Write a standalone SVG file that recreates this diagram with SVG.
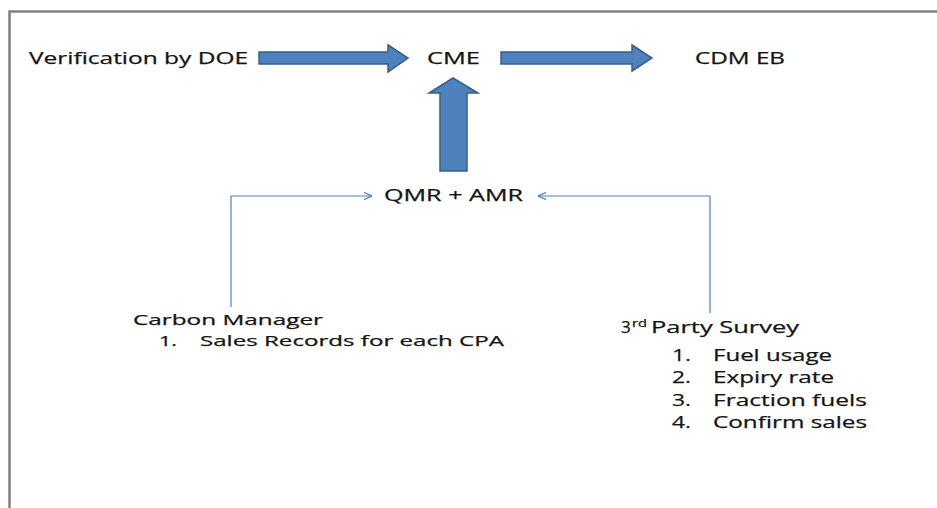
<svg xmlns="http://www.w3.org/2000/svg" width="937" height="508" viewBox="0 0 937 508">
<style>
.t{font-family:"Open Sans","Liberation Sans",sans-serif;font-size:17px;fill:#141414;stroke:#141414;stroke-width:0.25}
.s{font-size:15px}
.sup{font-size:11px}
.big{fill:#4F81BD;stroke:#385D8A;stroke-width:1.5}
.thin{fill:none;stroke:#4F81BD;stroke-width:1.2}
</style>
<defs>
<marker id="open" viewBox="0 0 10 10" refX="10" refY="5" markerWidth="9" markerHeight="9" markerUnits="userSpaceOnUse" orient="auto">
<path d="M1,1 L10,5 L1,9" fill="none" stroke="#4F81BD" stroke-width="1.3"/>
</marker>
</defs>
<rect x="0" y="0" width="937" height="508" fill="#fff"/>
<rect id="frame" x="9.5" y="11.5" width="940" height="510" fill="none" stroke="#808080" stroke-width="2.5"/>

<g id="connectors">
<path class="big" d="M259,52 H388 V45 L408,58 L388,72 V64 H259 Z"/>
<path class="big" d="M501,52 H632 V45 L652,58 L632,71 V64 H501 Z"/>
<path class="big" d="M440,171 V93 H429 L453,78 L478,93 H467 V171 Z"/>
<path class="thin" d="M231,307 V196 H372" marker-end="url(#open)"/>
<path class="thin" d="M710,313 V196 H538" marker-end="url(#open)"/>
</g>

<g id="doe"><text class="t" x="29" y="64" textLength="219" lengthAdjust="spacingAndGlyphs">Verification by DOE</text></g>
<g id="cme"><text class="t" x="427" y="64" textLength="53" lengthAdjust="spacingAndGlyphs">CME</text></g>
<g id="cdmeb"><text class="t" x="695" y="64" textLength="90" lengthAdjust="spacingAndGlyphs">CDM EB</text></g>
<g id="qmr"><text class="t" x="384" y="201" textLength="139" lengthAdjust="spacingAndGlyphs">QMR + AMR</text></g>

<g id="carbon-manager">
<text class="t s" x="133" y="325" textLength="190" lengthAdjust="spacingAndGlyphs">Carbon Manager</text>
<text class="t s" x="159" y="346" textLength="18" lengthAdjust="spacingAndGlyphs">1.</text>
<text class="t s" x="200" y="346" textLength="304" lengthAdjust="spacingAndGlyphs">Sales Records for each CPA</text>
</g>

<g id="survey">
<text class="t" x="621" y="333">3</text>
<text class="t sup" x="632" y="327" textLength="15" lengthAdjust="spacingAndGlyphs">rd</text>
<text class="t" x="651" y="333" textLength="148" lengthAdjust="spacingAndGlyphs">Party Survey</text>
<text class="t" x="672" y="361" textLength="19" lengthAdjust="spacingAndGlyphs">1.</text>
<text class="t" x="713" y="361" textLength="119" lengthAdjust="spacingAndGlyphs">Fuel usage</text>
<text class="t" x="672" y="383" textLength="19" lengthAdjust="spacingAndGlyphs">2.</text>
<text class="t" x="713" y="383" textLength="121" lengthAdjust="spacingAndGlyphs">Expiry rate</text>
<text class="t" x="672" y="406" textLength="19" lengthAdjust="spacingAndGlyphs">3.</text>
<text class="t" x="713" y="406" textLength="154" lengthAdjust="spacingAndGlyphs">Fraction fuels</text>
<text class="t" x="672" y="428" textLength="19" lengthAdjust="spacingAndGlyphs">4.</text>
<text class="t" x="713" y="428" textLength="154" lengthAdjust="spacingAndGlyphs">Confirm sales</text>
</g>
</svg>
